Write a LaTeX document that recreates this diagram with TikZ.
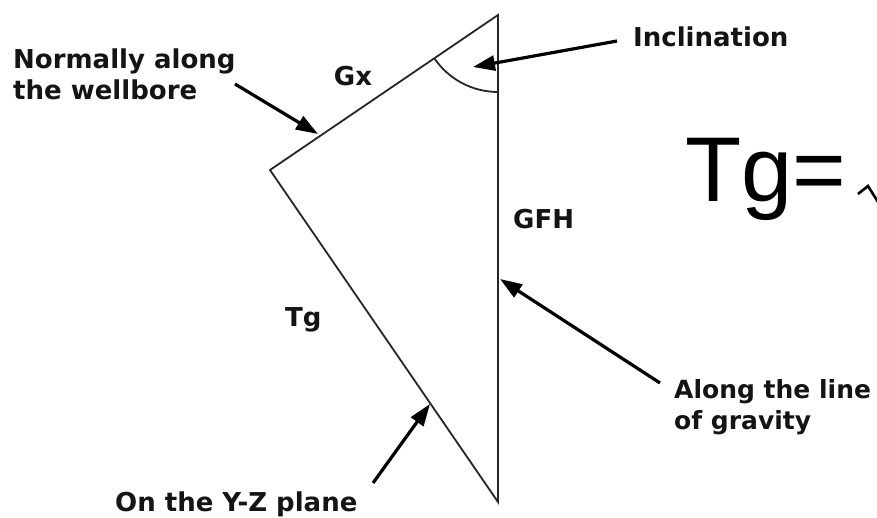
\documentclass[tikz,border=0pt]{standalone}
\usepackage{fontspec}
\setmainfont{DejaVu Sans}
\newfontfamily\bigfont{Liberation Sans}
\usetikzlibrary{arrows.meta}
\begin{document}
\begin{tikzpicture}[x=1pt,y=-1pt,
  lbl/.style={font=\fontsize{26}{31}\selectfont\bfseries, inner sep=0pt, text=black!92, align=left},
  side/.style={draw=black!85, line width=1.8pt},
  pointer/.style={draw=black, line width=3.2pt, -{Triangle[length=22pt,width=15pt]}},
]
\fill[white] (0,0) rectangle (877,518);
\useasboundingbox (0,0) rectangle (877,518);
% triangle
\coordinate (T) at (498,15);
\coordinate (L) at (270,170);
\coordinate (B) at (498,502);
\draw[side, line join=miter] (T) -- (L) -- (B) -- cycle;
\draw[side] (498,92) arc[start angle=90, end angle=146, radius=77];
% labels
\node[lbl, anchor=base west] (incl) at (633,47) {Inclination};
\node[lbl, anchor=north west] (wb) at (13,49) {Normally along\\the wellbore};
\node[lbl, anchor=base] (gx) at (353,86) {Gx};
\node[lbl, anchor=base west] (gfh) at (513,229) {GFH};
\node[lbl, anchor=base west] (tg) at (285,326) {Tg};
\node[lbl, font=\fontsize{25}{31}\selectfont\bfseries, anchor=north west] (grav) at (674,379) {Along the line\\of gravity};
\node[lbl, anchor=base west] (yz) at (115,511) {On the Y-Z plane};
\node[font=\bigfont\fontsize{92}{92}\selectfont, inner sep=0pt, anchor=base west] (eq) at (685,202) {Tg=};
\draw[line width=2.6pt, line join=miter] (858,194) -- (868,186) -- (878,202);
% arrow ends
\coordinate (incS) at (617,41);
\coordinate (incE) at (473,67);
\coordinate (wbS) at (235,84);
\coordinate (wbE) at (318,134);
\coordinate (grS) at (660,383);
\coordinate (grE) at (500,279);
\coordinate (yzS) at (373,483);
\coordinate (yzE) at (430,404);
\draw[pointer] (incS) -- (incE);
\draw[pointer] (wbS) -- (wbE);
\draw[pointer] (grS) -- (grE);
\draw[pointer] (yzS) -- (yzE);
\end{tikzpicture}
\end{document}
